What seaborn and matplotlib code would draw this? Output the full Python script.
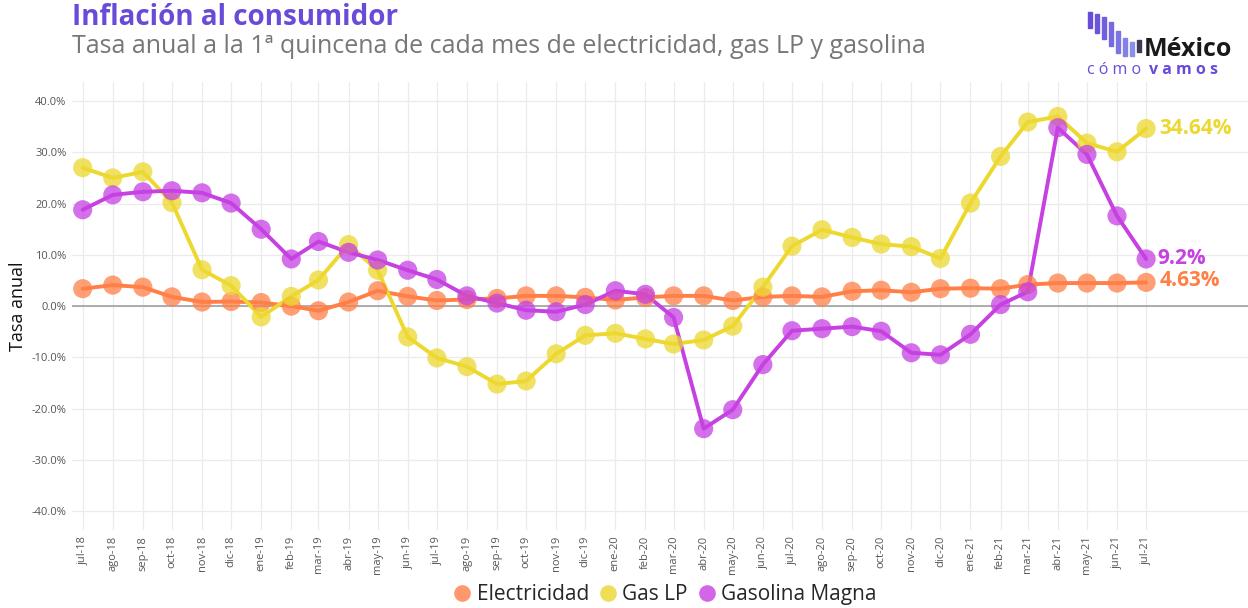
import pandas as pd
import numpy as np
import matplotlib
matplotlib.use("Agg")
import matplotlib.pyplot as plt
from matplotlib.lines import Line2D
from matplotlib.patches import Rectangle
import seaborn as sns

# Datos: tasa anual (%) a la 1a quincena de cada mes
meses = ["jul-18", "ago-18", "sep-18", "oct-18", "nov-18", "dic-18",
         "ene-19", "feb-19", "mar-19", "abr-19", "may-19", "jun-19",
         "jul-19", "ago-19", "sep-19", "oct-19", "nov-19", "dic-19",
         "ene-20", "feb-20", "mar-20", "abr-20", "may-20", "jun-20",
         "jul-20", "ago-20", "sep-20", "oct-20", "nov-20", "dic-20",
         "ene-21", "feb-21", "mar-21", "abr-21", "may-21", "jun-21", "jul-21"]
fechas = pd.date_range("2018-07-01", "2021-07-01", freq="MS")

electricidad = [3.4, 4.1, 3.7, 1.8, 0.8, 0.9, 0.7, 0.0, -0.9, 0.8, 3.0, 1.9,
                1.1, 1.3, 1.5, 2.0, 2.0, 1.7, 1.2, 1.7, 2.0, 2.0, 1.1, 1.8,
                2.0, 1.8, 2.9, 3.1, 2.7, 3.4, 3.5, 3.4, 4.2, 4.5, 4.5, 4.5, 4.63]
gas_lp = [27.0, 25.0, 26.2, 20.2, 7.1, 4.0, -2.1, 1.9, 5.1, 12.0, 7.0, -6.0,
          -10.1, -11.8, -15.2, -14.6, -9.3, -5.7, -5.3, -6.4, -7.4, -6.6, -3.9, 3.7,
          11.7, 14.9, 13.4, 12.1, 11.6, 9.3, 20.1, 29.2, 35.9, 37.0, 31.8, 30.1, 34.64]
gasolina = [18.8, 21.7, 22.3, 22.5, 22.1, 20.1, 15.0, 9.2, 12.6, 10.5, 9.0, 7.0,
            5.2, 2.0, 0.6, -0.8, -1.1, 0.3, 3.0, 2.3, -2.2, -23.9, -20.2, -11.4,
            -4.8, -4.4, -4.0, -4.9, -9.1, -9.5, -5.5, 0.3, 2.8, 34.8, 29.6, 17.6, 9.2]

series = ["Electricidad", "Gas LP", "Gasolina Magna"]
colores = {"Electricidad": "#ff7f47", "Gas LP": "#ecd82e", "Gasolina Magna": "#c640e2"}

df = pd.DataFrame({"fecha": fechas, "Electricidad": electricidad,
                   "Gas LP": gas_lp, "Gasolina Magna": gasolina})
largo = df.melt(id_vars="fecha", var_name="serie", value_name="tasa")

sns.set_theme(style="whitegrid")
plt.rcParams["font.family"] = ["Open Sans", "DejaVu Sans"]

fig = plt.figure(figsize=(12.48, 6.08), dpi=100)
ax = fig.add_axes([0.0577, 0.128, 0.9423, 0.737])

sns.lineplot(data=largo, x="fecha", y="tasa", hue="serie", hue_order=series,
             palette=colores, linewidth=2.8, legend=False, ax=ax, zorder=2)
sns.scatterplot(data=largo, x="fecha", y="tasa", hue="serie", hue_order=series,
                palette=colores, s=190, alpha=0.75, edgecolor="none",
                legend=False, ax=ax, zorder=3)

ax.axhline(0, color="#a0a0a0", linewidth=1.2, zorder=1)
ax.set_ylim(-43.7, 43.7)
ax.set_xlim(fechas[0] - pd.Timedelta(days=11), fechas[-1] + pd.Timedelta(days=105))
ax.set_yticks(np.arange(-40, 41, 10))
ax.set_yticklabels([f"{v:.1f}%" for v in np.arange(-40, 41, 10)])
ax.set_xticks(fechas)
ax.set_xticklabels(meses, rotation=90)
ax.tick_params(axis="both", labelsize=8, colors="#555555", length=0, pad=4)
ax.set_xlabel("")
ax.set_ylabel("Tasa anual", fontsize=13, color="#111111", labelpad=3)
ax.grid(color="#ebebeb", linewidth=0.9)
for s in ax.spines.values():
    s.set_visible(False)

# Etiquetas finales
ult = fechas[-1] + pd.Timedelta(days=14)
ax.text(ult, gas_lp[-1], f"{gas_lp[-1]:.2f}%", color=colores["Gas LP"],
        fontsize=15, fontweight="bold", va="center", ha="left")
ax.text(fechas[-1] + pd.Timedelta(days=12), gasolina[-1], f"{gasolina[-1]}%",
        color=colores["Gasolina Magna"], fontsize=15, fontweight="bold", va="center", ha="left")
ax.text(ult, electricidad[-1] + 0.3, f"{electricidad[-1]:.2f}%", color=colores["Electricidad"],
        fontsize=15, fontweight="bold", va="center", ha="left")

# Leyenda
handles = [Line2D([0], [0], marker="o", linestyle="none", markersize=12,
                  markerfacecolor=colores[s], markeredgecolor="none", alpha=0.8)
           for s in series]
fig.legend(handles, series, loc="center", bbox_to_anchor=(0.533, 0.022), ncol=3,
           frameon=False, fontsize=15, handlelength=0.8, handletextpad=0.3,
           columnspacing=0.5)

# Titulos
fig.text(0.058, 0.972, "Inflación al consumidor", fontsize=20, fontweight="bold",
         color="#6a4bd8", va="center", ha="left")
fig.text(0.058, 0.923, "Tasa anual a la 1ª quincena de cada mes de electricidad, gas LP y gasolina",
         fontsize=18, color="#777777", va="center", ha="left")

# Logo
logo = fig.add_axes([0, 0, 1, 1], facecolor="none")
logo.set_xlim(0, 1248)
logo.set_ylim(608, 0)
logo.axis("off")
barras = [(1088, 12, 28), (1095, 14, 33), (1102, 17, 39), (1109, 22, 46),
          (1116, 31, 53), (1123, 38, 56), (1130, 42, 56), (1137, 40, 52)]
tonos = ["#6a4bd8", "#6d55da", "#725fdd", "#7769df", "#7c75e2", "#8282e5", "#8a90e8", "#3b3b55"]
for (x0, y0, y1), c in zip(barras, tonos):
    logo.add_patch(Rectangle((x0, y0), 4, y1 - y0, color=c))
logo.text(1144, 50, "México", fontsize=18, fontweight="bold", color="#1a1a1a",
          va="center", ha="left")
logo.text(1087, 70, "c ó m o", fontsize=11.5, color="#6a4bd8", va="center", ha="left")
logo.text(1149, 70, "v a m o s", fontsize=11.5, fontweight="bold", color="#6a4bd8",
          va="center", ha="left")

fig.savefig("out.png", dpi=100)
